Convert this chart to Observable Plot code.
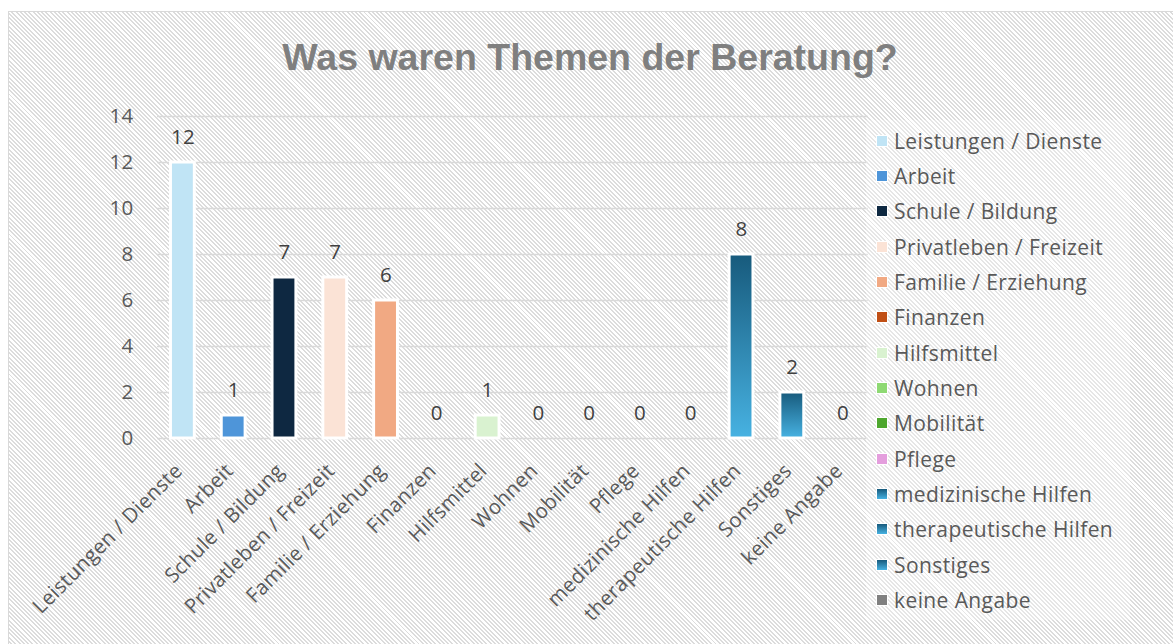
<!DOCTYPE html>
<html>
<head>
<meta charset="utf-8">
<script src="https://cdn.jsdelivr.net/npm/d3@7"></script>
<script src="https://cdn.jsdelivr.net/npm/@observablehq/plot@0.6"></script>
<style>
  html, body { margin: 0; padding: 0; background: #fff; width: 1173px; height: 644px; overflow: hidden; }
  #frame {
    position: absolute; left: 8px; top: 11px; width: 1190px; height: 660px;
    border: 1.5px solid #d9d9d9; box-sizing: border-box;
    background: repeating-linear-gradient(45deg, #ffffff 0px, #ffffff 1.6px, #dcdcdc 1.6px, #dcdcdc 3px);
  }
  #title {
    position: absolute; left: 0; top: 39px; width: 1180px; text-align: center;
    font: bold 37.5px "Liberation Sans", Arial, sans-serif; line-height: 37px; color: #7f7f7f;
  }
  #chart { position: absolute; left: 0; top: 0; }
  #legendBox {
    position: absolute; left: 866px; top: 120px; width: 264px; height: 500px;
    background: rgba(255,255,255,0.3);
  }
  .row {
    position: absolute; left: 876px; height: 35px; display: flex; align-items: center;
    font: 21px "Open Sans", sans-serif; letter-spacing: 0.4px; color: #595959; white-space: nowrap;
  }
  .sw { width: 10px; height: 10px; border: 1.5px solid #fff; margin-right: 6px; box-sizing: content-box; }
</style>
</head>
<body>
<div id="frame"></div>
<div id="title">Was waren Themen der Beratung?</div>
<div id="chart"></div>
<div id="legendBox"></div>
<div id="legend"></div>
<script>
const categories = ["Leistungen / Dienste", "Arbeit", "Schule / Bildung", "Privatleben / Freizeit",
  "Familie / Erziehung", "Finanzen", "Hilfsmittel", "Wohnen", "Mobilität", "Pflege",
  "medizinische Hilfen", "therapeutische Hilfen", "Sonstiges", "keine Angabe"];
const counts = [12, 1, 7, 7, 6, 0, 1, 0, 0, 0, 0, 8, 2, 0];
const yTicks = [0, 2, 4, 6, 8, 10, 12, 14];
const palette = ["#c0e4f5", "#4e95d9", "#0e2841", "#fbe3d6", "#f1a983", "#c04f15", "#d9f2d0",
  "#8ed973", "#4ea72e", "#e49edd", "url(#blueGrad)", "url(#blueGrad)", "url(#blueGrad)", "#808080"];
const cssPalette = palette.map(c => c.startsWith("url") ? "linear-gradient(#175a7c, #47b2e2)" : c);

const data = categories.map((c, i) => ({cat: c, n: counts[i]}));

function defs() {
  const ns = "http://www.w3.org/2000/svg";
  const d = document.createElementNS(ns, "defs");
  d.innerHTML = '<linearGradient id="blueGrad" x1="0" y1="0" x2="0" y2="1">' +
    '<stop offset="0" stop-color="#175a7c"/><stop offset="1" stop-color="#47b2e2"/></linearGradient>';
  return d;
}

const chart = Plot.plot({
  width: 1173, height: 644,
  marginLeft: 157, marginRight: 305, marginTop: 116, marginBottom: 206,
  x: {domain: categories, paddingInner: 0.53, paddingOuter: 0.265, round: false, label: null},
  y: {domain: [0, 14], label: null},
  color: {domain: categories, range: palette},
  style: {background: "transparent", fontFamily: "'Open Sans', sans-serif", fontSize: "20px", color: "#595959", overflow: "visible", letterSpacing: "0.3px"},
  marks: [
    defs,
    Plot.gridY(yTicks, {stroke: "#d9d9d9", strokeOpacity: 1, strokeWidth: 1.5}),
    Plot.axisY(yTicks, {tickSize: 0, tickPadding: 24, fontSize: 20.5, fill: "#595959", label: null}),
    Plot.axisX({tickSize: 0, tickRotate: -45, tickPadding: 29, dx: -4, fontSize: 20.5, fill: "#595959", label: null}),
    Plot.barY(data.filter(d => d.n > 0), {x: "cat", y: "n", fill: "cat", stroke: "#ffffff", strokeWidth: 3}),
    Plot.text(data, {x: "cat", y: "n", text: d => String(d.n), dy: -25, fontSize: 20.5, fill: "#404040"})
  ]
});
document.getElementById("chart").appendChild(chart);

const legend = document.getElementById("legend");
categories.forEach((c, i) => {
  const row = document.createElement("div");
  row.className = "row";
  row.style.top = (123.2 + i * 35.33) + "px";
  const sw = document.createElement("span");
  sw.className = "sw";
  sw.style.background = cssPalette[i];
  const t = document.createElement("span");
  t.textContent = c;
  row.appendChild(sw);
  row.appendChild(t);
  legend.appendChild(row);
});
</script>
</body>
</html>
